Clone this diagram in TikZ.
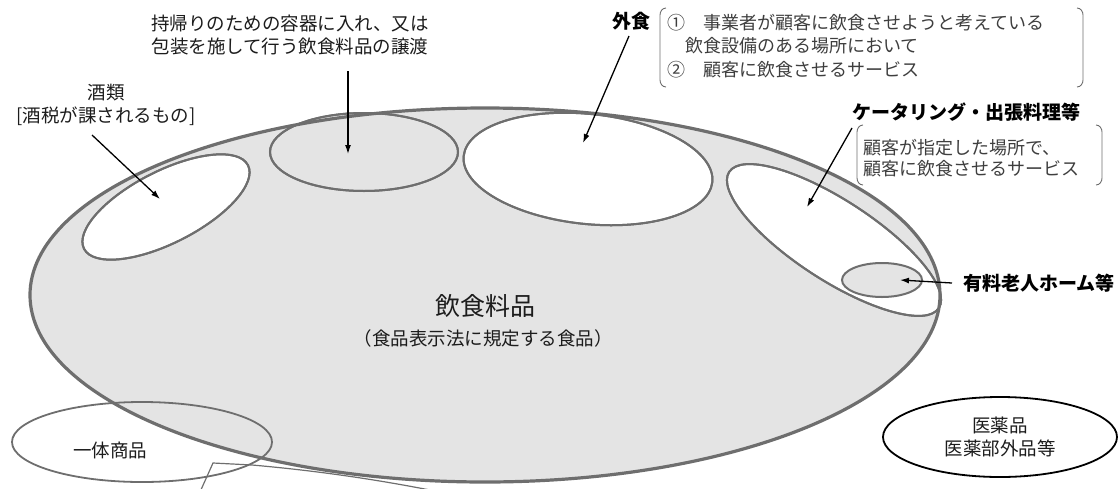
\documentclass[tikz,border=0pt]{standalone}
\usepackage{fontspec}
\setmainfont{Noto Sans CJK JP}
\usetikzlibrary{shapes.geometric,arrows.meta}
\definecolor{rim}{HTML}{6E6E6E}
\definecolor{fillg}{HTML}{E4E4E4}
\definecolor{txt}{HTML}{1C1C1C}
\definecolor{desc}{HTML}{3E3E3E}
\begin{document}
\begin{tikzpicture}[x=1pt,y=1pt,
  oval/.style={ellipse, inner sep=0pt, outer sep=0pt, draw=rim, line width=2pt},
  lbl/.style={font=\fontsize{18.5}{22.5}\selectfont, text=txt, inner sep=0pt, align=center},
  blbl/.style={font=\fontsize{19}{22}\selectfont\bfseries, text=black, inner sep=0pt},
  dsc/.style={font=\fontsize{18}{23.5}\selectfont, text=desc, inner sep=0pt, align=left},
  arr/.style={-{Latex[length=9pt,width=6pt]}, line width=1.3pt, black},
  brk/.style={draw=rim, line width=0.9pt},
  callout/.style={draw=rim, line width=1.2pt}]
\useasboundingbox (0,0) rectangle (1120,-488);
\clip (0,0) rectangle (1120,-488);

% big ellipse
\node[ellipse, inner sep=0pt, fill=fillg, minimum width=910pt, minimum height=374pt] (food) at (485,-295) {};

% inner ellipses
\node[oval, fill=white, minimum width=184pt, minimum height=72pt, rotate=27] (liquor) at (166,-207) {};
\node[oval, fill=fillg, minimum width=188pt, minimum height=78pt] (takeout) at (364,-152) {};
\node[oval, fill=white, minimum width=250pt, minimum height=110pt, rotate=-6] (eatout) at (588,-169) {};
\node[oval, fill=white, minimum width=250pt, minimum height=80pt, rotate=-33] (catering) at (834,-240) {};

% outline of big ellipse on top
\draw[rim, line width=3.2pt] (food.center) ellipse[x radius=455, y radius=187];

% redraw inner outlines
\draw[rim, line width=2pt, rotate around={27:(liquor.center)}] (liquor.center) ellipse[x radius=92, y radius=36];
\draw[rim, line width=2pt] (takeout.center) ellipse[x radius=94, y radius=39];
\draw[rim, line width=2pt, rotate around={-6:(eatout.center)}] (eatout.center) ellipse[x radius=125, y radius=55];
\draw[rim, line width=2pt, rotate around={-33:(catering.center)}] (catering.center) ellipse[x radius=125, y radius=40];

\node[oval, fill=fillg, minimum width=80pt, minimum height=34pt] (nursing) at (882,-280) {};
\node[oval, line width=1.8pt, minimum width=260pt, minimum height=80pt] (ittai) at (142,-442) {};
\node[oval, draw=black, line width=1.8pt, minimum width=234pt, minimum height=80pt] (iyaku) at (1000,-437) {};

% callout at bottom (cut off)
\coordinate (c1) at (200,-492);
\coordinate (c2) at (213,-463);
\coordinate (c3) at (252,-465);
\coordinate (c4) at (440,-492);
\draw[callout] (c1) -- (c2) -- (c3) .. controls (320,-471) and (380,-480) .. (c4);

% labels
\node[lbl] (takelbl) at (290,-35) {持帰りのための容器に入れ、又は\\包装を施して行う飲食料品の譲渡};
\node[lbl] (liqlbl) at (106,-105) {酒類\\{[}酒税が課されるもの{]}};
\node[font=\fontsize{25}{28}\selectfont, text=txt, inner sep=0pt] (foodlbl) at (485,-306) {飲食料品};
\node[lbl] (foodsub) at (483,-338) {（食品表示法に規定する食品）};
\node[lbl] (ittailbl) at (110,-450) {一体商品};
\node[lbl] (iyakulbl) at (iyaku.center) {医薬品\\医薬部外品等};
\node[blbl] (eatlbl) at (631,-21) {外食};
\node[blbl, anchor=west] (catlbl) at (852,-112) {ケータリング・出張料理等};
\node[blbl, anchor=west] (nurslbl) at (963,-283) {有料老人ホーム等};

\node[dsc, anchor=west] (eatdsc) at (667,-46) {①　事業者が顧客に飲食させようと考えている\\　飲食設備のある場所において\\②　顧客に飲食させるサービス};
\node[dsc, anchor=west, font=\fontsize{18}{21.5}\selectfont] (catdsc) at (863,-158) {顧客が指定した場所で、\\顧客に飲食させるサービス};

% brackets
\draw[brk] (666,-8) to[out=180,in=90] (660,-15) -- (660,-80) to[out=-90,in=180] (666,-87);
\draw[brk] (1077,-8) to[out=0,in=90] (1083,-15) -- (1083,-80) to[out=-90,in=0] (1077,-87);
\draw[brk] (863,-125) to[out=180,in=90] (857,-132) -- (857,-178) to[out=-90,in=180] (863,-185);
\draw[brk] (1096,-125) to[out=0,in=90] (1102,-132) -- (1102,-178) to[out=-90,in=0] (1096,-185);

% arrows
\coordinate (takeA) at (348,-71);
\coordinate (takeB) at (348,-154);
\coordinate (liqA) at (92,-135);
\coordinate (liqB) at (160,-199);
\coordinate (eatA) at (629,-36);
\coordinate (eatB) at (583,-143);
\coordinate (catA) at (852,-128);
\coordinate (catB) at (807,-207);
\coordinate (nurB) at (900,-280);
\draw[arr] (takeA) -- (takeB);
\draw[arr] (liqA) -- (liqB);
\draw[arr] (eatA) -- (eatB);
\draw[arr] (catA) -- (catB);
\draw[arr] ([xshift=-11pt]nurslbl.west) -- (nurB);
\end{tikzpicture}
\end{document}
